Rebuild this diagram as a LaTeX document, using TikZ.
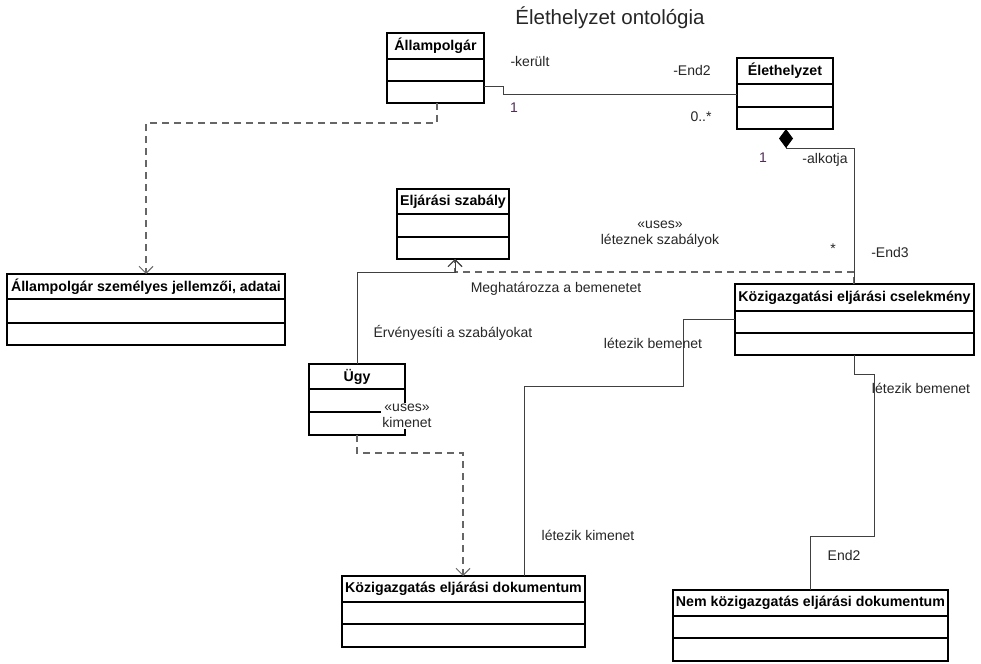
\documentclass[tikz,border=0pt]{standalone}
\usepackage{fontspec}
\setmainfont{Liberation Sans}
\usetikzlibrary{arrows.meta}

% UML class: name, left, top, right, bottom, first divider, second divider, title
\newcommand\umlclass[8]{%
  \node[classbox, anchor=north west,
        minimum width={(#4)-(#2)}, minimum height={(#5)-(#3)}] (#1) at (#2,#3) {};
  \draw[classline] (#2,#6) -- (#4,#6) (#2,#7) -- (#4,#7);
  \node[classtitle] (#1-title) at ({((#2)+(#4))/2},{((#3)+(#6))/2}) {#8};
}

\begin{document}
\begin{tikzpicture}[x=1pt,y=-1pt,
  classbox/.style={draw=black, line width=1.1pt, fill=white, inner sep=0pt, outer sep=0pt},
  classline/.style={draw=black, line width=1.1pt},
  classtitle/.style={font=\bfseries\fontsize{14.2}{16}\selectfont, text=black, inner sep=0pt},
  lbl/.style={font=\fontsize{14}{16}\selectfont, text=black!85, inner sep=1pt, align=center},
  mult/.style={lbl, text={rgb,255:red,80;green,45;blue,85}},
  assoc/.style={draw=black!75, line width=0.9pt},
  depend/.style={draw=black!60, line width=1.2pt, dash pattern=on 7pt off 5pt},
  openarrow/.style={-{Straight Barb[length=7pt,width=14pt,line width=1pt]}},
]
\useasboundingbox (0,0) rectangle (981,663);
\fill[white] (0,0) rectangle (981,663);

% title
\node[font=\fontsize{20.5}{24}\selectfont, text=black!85] (title) at (610,18) {Élethelyzet ontológia};

% classes
\umlclass{ap}{387}{33}{484}{103}{59}{81}{Állampolgár}
\umlclass{eh}{737}{58}{833}{129}{84}{107}{Élethelyzet}
\umlclass{es}{397}{189}{509}{259}{214}{237}{Eljárási szabály}
\umlclass{apsz}{7}{274}{285}{345}{299}{323}{Állampolgár személyes jellemzői, adatai}
\umlclass{kc}{735}{284}{974}{355}{311}{333}{Közigazgatási eljárási cselekmény}
\umlclass{ugy}{309}{364}{405}{435}{389}{412}{Ügy}
\umlclass{kd}{342}{576}{585}{647}{602}{624}{Közigazgatás eljárási dokumentum}
\umlclass{nkd}{673}{590}{948}{661}{616}{638}{Nem közigazgatás eljárási dokumentum}

% dependencies (dashed)
\draw[depend, openarrow] (ap.south -| 437,0) -- (437,123) -- (146,123) -- (apsz.north -| 146,0);
\draw[depend, openarrow] (kc.north -| 854,0) -- (854,272) -- (455,272) -- (es.south -| 455,0);
\draw[depend, openarrow] (ugy.south -| 357,0) -- (357,453) -- (463,453) -- (kd.north -| 463,0);

% associations
\draw[assoc] (ap.east |- 0,86) -- (503,86) -- (503,94) -- (eh.west |- 0,94);
\draw[assoc, {Diamond[length=19pt,width=14pt,color=black]}-]
  (eh.south -| 786,0) -- (786,148) -- (854,148) -- (kc.north -| 854,0);
\draw[assoc, openarrow] (ugy.north -| 357,0) -- (357,272) -- (455,272) -- (es.south -| 455,0);
\draw[assoc] (kd.north -| 524,0) -- (524,386) -- (683,386) -- (683,319) -- (kc.west |- 0,319);
\draw[assoc] (kc.south -| 854,0) -- (854,374) -- (874,374) -- (874,536) -- (810,536) -- (nkd.north -| 810,0);

% association end labels
\node[lbl] (l-kerult) at (530,61) {-került};
\node[lbl] (l-end2a) at (692,70) {-End2};
\node[mult] (m-ap) at (514,108) {1};
\node[lbl] (m-eh) at (701,117) {0..*};
\node[mult] (m-eh2) at (763,158) {1};
\node[lbl] (l-alkotja) at (825,160) {-alkotja};
\node[lbl] (m-kc) at (833,249) {*};
\node[lbl] (l-end3) at (890,252) {-End3};
\node[lbl] (l-end2b) at (844,555) {End2};

% connector labels
\node[lbl, inner sep=0pt] (l-lsz) at (660,234) {«uses»\\léteznek szabályok};
\node[lbl] (l-megh) at (556,289) {Meghatározza a bemenetet};
\node[lbl] (l-erv) at (453,333) {Érvényesíti a szabályokat};
\node[lbl] (l-lb1) at (653,343) {létezik bemenet};
\node[lbl, fill=white, inner sep=1.5pt] (l-kim) at (407,416) {«uses»\\kimenet};
\node[lbl] (l-lk) at (588,535) {létezik kimenet};
\node[lbl] (l-lb2) at (921,388) {létezik bemenet};
\end{tikzpicture}
\end{document}
